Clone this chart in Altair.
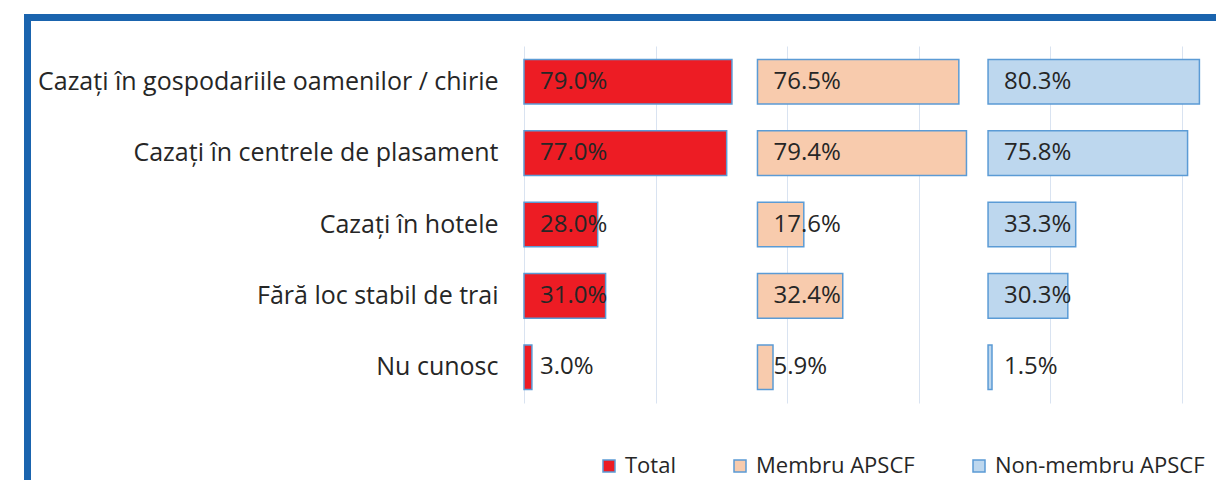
import altair as alt
import pandas as pd

categories = [
    "Cazați în gospodariile oamenilor / chirie",
    "Cazați în centrele de plasament",
    "Cazați în hotele",
    "Fără loc stabil de trai",
    "Nu cunosc",
]
series_names = ["Total", "Membru APSCF", "Non-membru  APSCF"]
total = [79.0, 77.0, 28.0, 31.0, 3.0]
membru = [76.5, 79.4, 17.6, 32.4, 5.9]
non_membru = [80.3, 75.8, 33.3, 30.3, 1.5]
offsets = [0.0, 88.7, 176.3]  # invisible spacer start of each panel
colors = ["#ED1C24", "#F8CBAD", "#BDD7EE"]

rows = []
for s, vals, off in zip(series_names, [total, membru, non_membru], offsets):
    for c, v in zip(categories, vals):
        rows.append({"category": c, "series": s, "start": off, "end": off + v,
                     "label": f"{v:.1f}%"})
df = pd.DataFrame(rows)

FONT = "Open Sans"
W, H = 692, 357
XMAX = 262.9

xscale = alt.Scale(domain=[0, XMAX], nice=False, zero=False)
yscale = alt.Scale(domain=categories, paddingInner=0.375, paddingOuter=0.1875)

bars = alt.Chart(df).mark_bar(stroke="#5B9BD5", strokeWidth=1.5).encode(
    x=alt.X("start:Q", scale=xscale,
            axis=alt.Axis(values=[0, 50, 100, 150, 200, 250], labels=False, ticks=False,
                          domain=False, grid=True, gridColor="#D9E3F1", gridWidth=1, title=None)),
    x2="end:Q",
    y=alt.Y("category:N", scale=yscale, sort=categories,
            axis=alt.Axis(title=None, ticks=False, domain=False, labelFont=FONT, labelFontSize=25,
                          labelColor="#262626", labelPadding=26, labelLimit=700)),
    color=alt.Color("series:N", scale=alt.Scale(domain=series_names, range=colors),
                    legend=alt.Legend(title=None, orient="none", direction="horizontal",
                                      legendX=74, legendY=409, symbolType="square",
                                      symbolSize=144, symbolStrokeColor="#5B9BD5",
                                      symbolStrokeWidth=1.5, labelFont=FONT, labelFontSize=22,
                                      labelColor="#262626", labelOffset=5, columnPadding=53,
                                      labelLimit=600, padding=0)),
)

labels = alt.Chart(df).mark_text(align="left", baseline="middle", dx=16, font=FONT,
                                 fontSize=24, color="#262626").encode(
    x=alt.X("start:Q", scale=xscale),
    y=alt.Y("category:N", scale=yscale, sort=categories),
    text="label:N",
)

frame = alt.Chart(alt.Data(values=[{"a": 1}])).mark_rect(
    fill=None, stroke="#1A64AE", strokeWidth=7
).encode(
    x=alt.value(-496.5), x2=alt.value(900), y=alt.value(-28.5), y2=alt.value(600)
)

chart = alt.layer(frame, bars, labels).properties(
    width=W, height=H,
    autosize=alt.AutoSizeParams(type="none"),
    padding={"left": 516, "top": 38, "right": 0, "bottom": 77},
).configure_view(stroke=None)

chart.save("out.html", embed_options={"renderer": "svg", "actions": False})
